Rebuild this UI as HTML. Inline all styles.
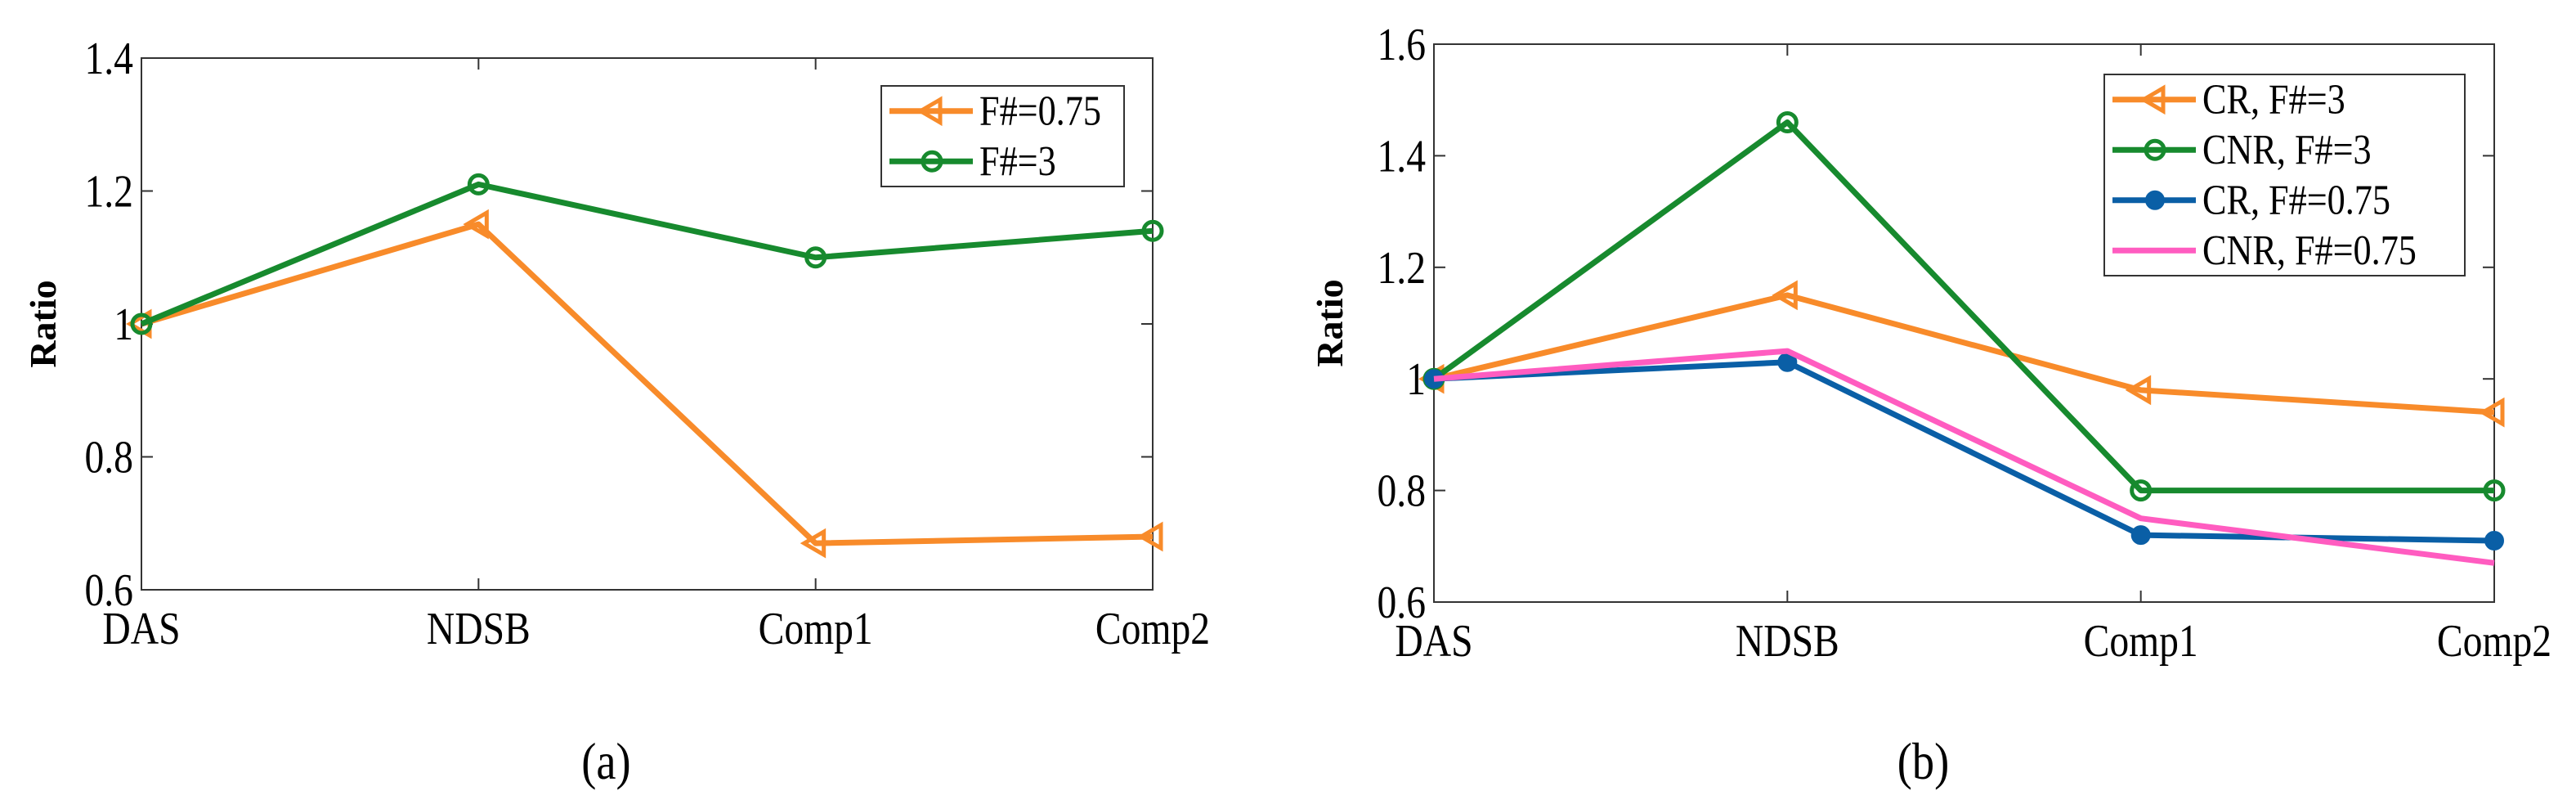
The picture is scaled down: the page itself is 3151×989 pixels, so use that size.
<!DOCTYPE html>
<html><head><meta charset="utf-8"><style>
html,body{margin:0;padding:0;background:#fff}
svg text{font-family:"Liberation Serif",serif}
</style></head><body>
<svg id="s" width="3151" height="984" xmlns="http://www.w3.org/2000/svg"></svg>
<script>
const categories=["DAS","NDSB","Comp1","Comp2"];
const aOrange=[1,1.15,0.67,0.68];
const aGreen=[1,1.21,1.10,1.14];
const aTicks=[0.6,0.8,1,1.2,1.4];
const bCR3=[1,1.15,0.98,0.94];
const bCNR3=[1,1.46,0.8,0.8];
const bCR075=[1,1.03,0.72,0.71];
const bCNR075=[1,1.05,0.75,0.67];
const bTicks=[0.6,0.8,1,1.2,1.4,1.6];
const NS="http://www.w3.org/2000/svg";
const svg=document.getElementById('s');
function mk(t,at,p){const e=document.createElementNS(NS,t);for(const k in at)e.setAttribute(k,at[k]);(p||svg).appendChild(e);return e;}
function txt(g,x,y,anchor,size,str,name,extra){
  const sx=0.85;
  const t=mk('text',Object.assign({x:x/sx,y:y,'text-anchor':anchor,'font-size':size,transform:`scale(${sx},1)`},extra||{}),g);
  t.textContent=str;
  
  
  return t;
}
function marker(g,type,x,y,c){
  if(type==='tri'){mk('polygon',{points:`${x-14},${y} ${x+10},${y-14} ${x+10},${y+14}`,fill:'none',stroke:c,'stroke-width':5},g);}
  else if(type==='circ'){mk('circle',{cx:x,cy:y,r:11,fill:'none',stroke:c,'stroke-width':5},g);}
  else if(type==='dot'){mk('circle',{cx:x,cy:y,r:11,fill:c,stroke:c,'stroke-width':2},g);}
}
function chart(name,L,R,T,B,ymin,ymax,ticks,series,leg,label,ratioX){
  const g=mk('g',{});
  
  
  const xs=i=>L+(R-L)*i/(categories.length-1);
  const ys=v=>B-(B-T)*(v-ymin)/(ymax-ymin);
  mk('rect',{x:L,y:T,width:R-L,height:B-T,fill:'none',stroke:'#333','stroke-width':2},g);
  ticks.forEach(t=>{const y=ys(t);
    mk('line',{x1:L,y1:y,x2:L+14,y2:y,stroke:'#333','stroke-width':2},g);
    mk('line',{x1:R,y1:y,x2:R-14,y2:y,stroke:'#333','stroke-width':2},g);
    txt(g,L-10,y+19,'end',56,String(t),'y-tick-label');
  });
  categories.forEach((c,i)=>{const x=xs(i);
    mk('line',{x1:x,y1:B,x2:x,y2:B-14,stroke:'#333','stroke-width':2},g);
    mk('line',{x1:x,y1:T,x2:x,y2:T+14,stroke:'#333','stroke-width':2},g);
    txt(g,x,B+66,'middle',56,c,'x-tick-label');
  });
  series.forEach(s=>{
    const sg=mk('g',{},g);
    
    
    mk('polyline',{points:s.v.map((v,i)=>xs(i)+','+ys(v)).join(' '),fill:'none',stroke:s.c,'stroke-width':7,'stroke-linejoin':'round'},sg);
    s.v.forEach((v,i)=>marker(sg,s.m,xs(i),ys(v),s.c));
  });
  const lg=mk('g',{},g);
  
  
  mk('rect',{x:leg.x,y:leg.y,width:leg.w,height:leg.h,fill:'#fff',stroke:'#333','stroke-width':2},lg);
  series.forEach((s,i)=>{
    const y=leg.y+leg.h*(i+0.5)/series.length;
    mk('line',{x1:leg.x+10,y1:y,x2:leg.x+112,y2:y,stroke:s.c,'stroke-width':7},lg);
    marker(lg,s.m,leg.x+62,y,s.c);
    txt(lg,leg.x+120,y+17,'start',52,s.name,'legend-entry');
  });
  const yl=mk('text',{x:ratioX,y:(T+B)/2,'text-anchor':'middle','font-size':46,'font-weight':'bold',transform:`rotate(-90 ${ratioX} ${(T+B)/2})`},g);
  yl.textContent='Ratio';
  
  
  txt(g,(L+R)/2-50,952,'middle',64,label,'panel-caption');
}
const OR='#f88b2a',GR='#178a2e',BL='#0a5fa6',PK='#ff5cc0';
chart('chart-a',173,1410,71,721,0.6,1.4,aTicks,[
 {id:'f075',name:'F#=0.75',v:aOrange,c:OR,m:'tri'},
 {id:'f3',name:'F#=3',v:aGreen,c:GR,m:'circ'}],
 {x:1078,y:105,w:297,h:123},'(a)',68);
chart('chart-b',1754,3051,54,736,0.6,1.6,bTicks,[
 {id:'cr3',name:'CR, F#=3',v:bCR3,c:OR,m:'tri'},
 {id:'cnr3',name:'CNR, F#=3',v:bCNR3,c:GR,m:'circ'},
 {id:'cr075',name:'CR, F#=0.75',v:bCR075,c:BL,m:'dot'},
 {id:'cnr075',name:'CNR, F#=0.75',v:bCNR075,c:PK,m:'none'}],
 {x:2574,y:91,w:441,h:246},'(b)',1642);
</script>
</body></html>
